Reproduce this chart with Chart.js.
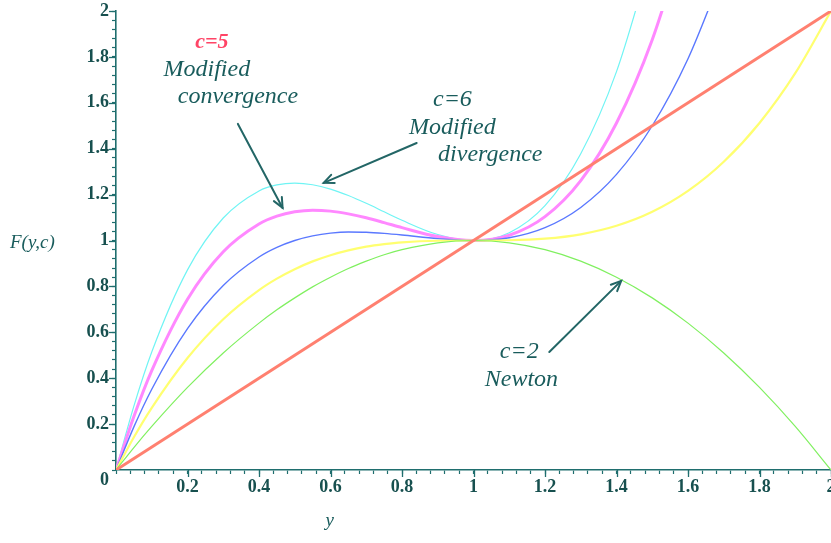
<!DOCTYPE html>
<html><head><meta charset="utf-8">
<script src="https://cdn.jsdelivr.net/npm/chart.js@4/dist/chart.umd.min.js"></script>
<style>html,body{margin:0;padding:0;background:#fff}#wrap{width:831px;height:543px;position:relative}</style>
</head><body><div id="wrap"><canvas id="c"></canvas></div>
<script>
// y values (horizontal axis)
const yPoints = [0,0.05,0.1,0.2,0.3,0.4,0.45,0.5,0.55,0.6,0.65,0.7,0.75,0.8,0.9,1.0,1.1,1.2,1.3,1.4,1.5,1.6,1.7,1.8,1.9,2.0];
// F(y,c) for each c
const F_c2 = [0,0.098,0.19,0.36,0.51,0.64,0.698,0.75,0.798,0.84,0.878,0.91,0.938,0.96,0.99,1,0.99,0.96,0.91,0.84,0.75,0.64,0.51,0.36,0.19,0];
const F_c3 = [0,0.143,0.271,0.488,0.657,0.784,0.834,0.875,0.909,0.936,0.957,0.973,0.984,0.992,0.999,1,1.001,1.008,1.027,1.064,1.125,1.216,1.343,1.512,1.729,2.0];
const F_c4 = [0,0.188,0.352,0.616,0.804,0.928,0.970,1.0,1.020,1.032,1.037,1.036,1.031,1.024,1.008,1,1.012,1.056,1.144,1.288,1.5,1.792,2.176];
const F_c5 = [0,0.233,0.433,0.744,0.951,1.072,1.106,1.125,1.132,1.128,1.116,1.099,1.078,1.056,1.017,1,1.023,1.104,1.261,1.512,1.875,2.368];
const F_c6 = [0,0.278,0.514,0.872,1.098,1.216,1.242,1.25,1.243,1.224,1.196,1.162,1.125,1.088,1.026,1,1.034,1.152,1.378,1.736,2.25];
const identityX = [0,2];
const identityY = [0,2];
// tick labels
const majorTicks = [0.2,0.4,0.6,0.8,1,1.2,1.4,1.6,1.8,2];
const tickLabels = ['0.2','0.4','0.6','0.8','1','1.2','1.4','1.6','1.8','2'];

const pts = (xs, ys) => ys.map((v,i)=>({x:xs[i], y:v}));
const AXIS = '#1f6e6e', LABEL = '#17504f', TEXT = '#195c5c';
const FONT = '"Liberation Serif","Times New Roman",serif';

function majorLabel(value){
  const i = majorTicks.findIndex(m => Math.abs(m - value) < 1e-6);
  return i >= 0 ? tickLabels[i] : '';
}

const annotations = {
  id:'annotations',
  afterDraw(chart){
    const {ctx, scales:{x, y}, chartArea:ca} = chart;
    ctx.save();
    // major ticks (longer)
    ctx.strokeStyle = AXIS; ctx.lineWidth = 1.3;
    majorTicks.forEach(m=>{
      const px = Math.round(x.getPixelForValue(m))+0.5;
      ctx.beginPath(); ctx.moveTo(px, ca.bottom); ctx.lineTo(px, ca.bottom+7); ctx.stroke();
      const py = Math.round(y.getPixelForValue(m))+0.5;
      ctx.beginPath(); ctx.moveTo(ca.left, py); ctx.lineTo(ca.left-7, py); ctx.stroke();
    });
    // texts
    const txt = (s, vx, vy, font, color) => {
      ctx.font = font; ctx.fillStyle = color; ctx.textAlign='center'; ctx.textBaseline='middle';
      ctx.fillText(s, x.getPixelForValue(vx), y.getPixelForValue(vy));
    };
    const it = 'italic 24px ' + FONT;
    txt('c=5', 0.268, 1.865, 'italic bold 22px ' + FONT, '#ff4466');
    txt('Modified', 0.254, 1.743, it, TEXT);
    txt('convergence', 0.341, 1.625, it, TEXT);
    txt('c=6', 0.941, 1.612, it, TEXT);
    txt('Modified', 0.941, 1.490, it, TEXT);
    txt('divergence', 1.047, 1.373, it, TEXT);
    txt('c=2', 1.128, 0.514, it, TEXT);
    txt('Newton', 1.134, 0.395, it, TEXT);
    // axis titles
    ctx.font = 'italic 19px ' + FONT; ctx.fillStyle = TEXT; ctx.textBaseline='middle';
    ctx.textAlign = 'left';
    ctx.fillText('F(y,c)', 10, y.getPixelForValue(1)+2);
    ctx.textAlign = 'center';
    ctx.fillText('y', x.getPixelForValue(0.598), 521);
    // arrows
    const arrow = (x1,y1,x2,y2) => {
      const ax = x.getPixelForValue(x1), ay = y.getPixelForValue(y1);
      const bx = x.getPixelForValue(x2), by = y.getPixelForValue(y2);
      ctx.strokeStyle = '#236666'; ctx.lineWidth = 2; ctx.lineCap='round';
      ctx.beginPath(); ctx.moveTo(ax, ay); ctx.lineTo(bx, by); ctx.stroke();
      const ang = Math.atan2(by-ay, bx-ax), L = 11, w = 0.42;
      ctx.beginPath();
      ctx.moveTo(bx - L*Math.cos(ang-w), by - L*Math.sin(ang-w));
      ctx.lineTo(bx, by);
      ctx.lineTo(bx - L*Math.cos(ang+w), by - L*Math.sin(ang+w));
      ctx.stroke();
    };
    arrow(0.341, 1.508, 0.466, 1.142);
    arrow(0.841, 1.425, 0.581, 1.251);
    arrow(1.212, 0.514, 1.413, 0.824);
    ctx.restore();
  }
};

const base = {pointRadius:0, fill:false, cubicInterpolationMode:'monotone'};
new Chart(document.getElementById('c'), {
  type:'line',
  data:{datasets:[
    {...base, label:'F=y', data:pts(identityX, identityY), borderColor:'#ff8070', borderWidth:3},
    {...base, label:'c=2', data:pts(yPoints, F_c2), borderColor:'#80f060', borderWidth:1.2},
    {...base, label:'c=3', data:pts(yPoints, F_c3), borderColor:'#ffff70', borderWidth:2.2},
    {...base, label:'c=4', data:pts(yPoints, F_c4), borderColor:'#5a78ff', borderWidth:1.4},
    {...base, label:'c=5', data:pts(yPoints, F_c5), borderColor:'#ff88ff', borderWidth:3},
    {...base, label:'c=6', data:pts(yPoints, F_c6), borderColor:'#70f4f4', borderWidth:1.2}
  ]},
  options:{
    responsive:true, maintainAspectRatio:false, animation:false, devicePixelRatio:1,
    layout:{padding:{top:11,left:0,right:0,bottom:0}},
    plugins:{legend:{display:false}, tooltip:{enabled:false}},
    scales:{
      x:{type:'linear', min:0, max:2,
        afterFit:s=>{s.height=73; s.paddingLeft=0; s.paddingRight=0;},
        ticks:{stepSize:0.04, autoSkip:false, maxRotation:0, padding:3, color:LABEL,
          font:{family:FONT, size:18, weight:'bold'},
          callback:v=>majorLabel(v)},
        grid:{drawOnChartArea:false, drawTicks:true, tickLength:4, tickColor:AXIS, tickWidth:1.2},
        border:{color:AXIS, width:1.6}
      },
      y:{min:0, max:2,
        afterFit:s=>{s.width=116; s.paddingTop=0; s.paddingBottom=0;},
        ticks:{stepSize:0.04, autoSkip:false, padding:3, color:LABEL,
          font:{family:FONT, size:18, weight:'bold'},
          callback:v=>Math.abs(v)<1e-6 ? ['', '0'] : majorLabel(v)},
        grid:{drawOnChartArea:false, drawTicks:true, tickLength:4, tickColor:AXIS, tickWidth:1.2},
        border:{color:AXIS, width:1.6}
      }
    }
  },
  plugins:[annotations]
});
</script></body></html>
